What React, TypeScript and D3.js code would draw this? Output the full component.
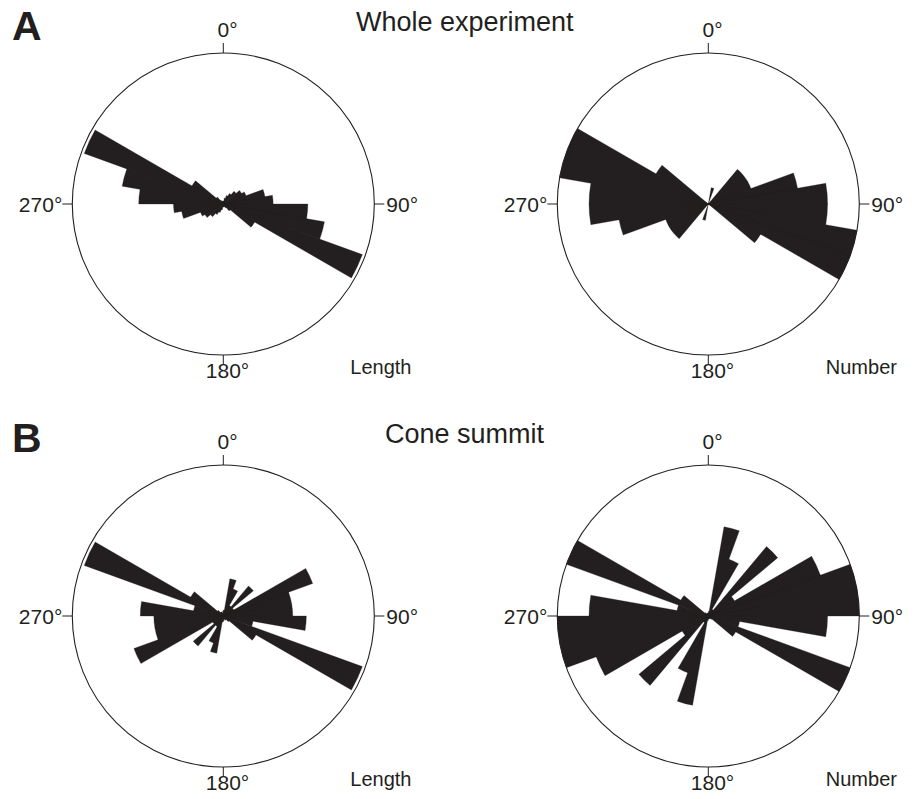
import React from "react";
import * as d3 from "d3";

// Bin start azimuths (degrees, clockwise from north). Axial data: each bin is drawn at a and a+180.
const binStarts = [0, 10, 20, 30, 40, 50, 60, 70, 80, 90, 100, 110, 120, 130, 140, 150, 160, 170];

// Relative petal radius (fraction of the outer circle)
const wholeLength = [0.02, 0.04, 0.06, 0.08, 0.11, 0.14, 0.16, 0.28, 0.33, 0.56, 0.68, 0.98, 0.24, 0.06, 0.03, 0.02, 0.02, 0.02];
const wholeNumber = [0, 0.11, 0, 0, 0.30, 0.30, 0.30, 0.60, 0.79, 0.79, 1.0, 1.0, 0.40, 0, 0, 0, 0, 0];
const coneLength = [0.04, 0.25, 0.19, 0.08, 0.26, 0.08, 0.63, 0.46, 0.46, 0.55, 0.20, 0.98, 0.25, 0.05, 0.03, 0.03, 0.02, 0.03];
const coneNumber = [0.03, 0.60, 0.40, 0.05, 0.60, 0.20, 0.79, 1.0, 1.0, 0.79, 0.21, 1.0, 0.21, 0.03, 0.02, 0.02, 0.02, 0.02];

const rowTitles = ["Whole experiment", "Cone summit"];
const rowLetters = ["A", "B"];
const panelLabels = ["Length", "Number"];
const tickLabels = ["0°", "90°", "180°", "270°"];

const W = 920;
const H = 799;
const R = 151;
const colX = [223.3, 708.3];
const rowY = [204, 616];
const titleX = [356, 385];
const labelDX = [127, 117.5];
const INK = "#231f20";
const FONT = "'Liberation Sans', Arial, Helvetica, sans-serif";

function Rose({ cx, cy, values, label, labelDx }: { cx: number; cy: number; values: number[]; label: string; labelDx: number }) {
  const rScale = d3.scaleLinear().domain([0, 1]).range([0, R]);
  const toRad = (deg: number) => (deg * Math.PI) / 180;
  const arc = d3.arc<any>();
  const parts: string[] = [];
  binStarts.forEach((a, i) => {
    const v = values[i];
    if (v <= 0) return;
    [a, a + 180].forEach((a0) => {
      parts.push(
        arc({
          innerRadius: 0,
          outerRadius: rScale(v),
          startAngle: toRad(a0),
          endAngle: toRad(a0 + 10),
        }) as string
      );
    });
  });
  const fs = 21;
  const digitW = 0.556 * fs;
  return (
    <g>
      <circle cx={cx} cy={cy} r={R} fill="none" stroke={INK} strokeWidth={1.1} />
      <g transform={`translate(${cx},${cy})`}>
        <path d={parts.join("")} fill={INK} stroke={INK} strokeWidth={0.3} fillRule="nonzero" />
      </g>
      {/* ticks */}
      <line x1={cx} x2={cx} y1={cy - R - 10} y2={cy - R} stroke={INK} strokeWidth={1} />
      <line x1={cx} x2={cx} y1={cy + R} y2={cy + R + 10} stroke={INK} strokeWidth={1} />
      <line x1={cx - R - 10} x2={cx - R} y1={cy} y2={cy} stroke={INK} strokeWidth={1} />
      <line x1={cx + R} x2={cx + R + 10} y1={cy} y2={cy} stroke={INK} strokeWidth={1} />
      <g fontFamily={FONT} fontSize={fs} fill={INK}>
        <text x={cx - digitW / 2} y={cy - R - 16}>{tickLabels[0]}</text>
        <text x={cx + R + 12} y={cy + 7.5}>{tickLabels[1]}</text>
        <text x={cx - (3 * digitW) / 2} y={cy + R + 23}>{tickLabels[2]}</text>
        <text x={cx - R - 10} y={cy + 7.5} textAnchor="end">{tickLabels[3]}</text>
      </g>
      <text x={cx + labelDx} y={cy + 170} fontFamily={FONT} fontSize={20} fill={INK}>
        {label}
      </text>
    </g>
  );
}

export default function App() {
  const rows = [
    [wholeLength, wholeNumber],
    [coneLength, coneNumber],
  ];
  return (
    <svg
      width={W}
      height={H}
      viewBox={`0 0 ${W} ${H}`}
      style={{ position: "absolute", left: 0, top: 0, background: "#fff" }}
    >
      <rect width={W} height={H} fill="#fff" />
      {rows.map((row, ri) => (
        <g key={ri}>
          <text x={12} y={rowY[ri] - 164} fontFamily={FONT} fontWeight="bold" fontSize={41} fill={INK}>
            {rowLetters[ri]}
          </text>
          <text x={titleX[ri]} y={rowY[ri] - 173} fontFamily={FONT} fontSize={27} fill={INK}>
            {rowTitles[ri]}
          </text>
          {row.map((vals, ci) => (
            <Rose key={ci} cx={colX[ci]} cy={rowY[ri]} values={vals} label={panelLabels[ci]} labelDx={labelDX[ci]} />
          ))}
        </g>
      ))}
    </svg>
  );
}
